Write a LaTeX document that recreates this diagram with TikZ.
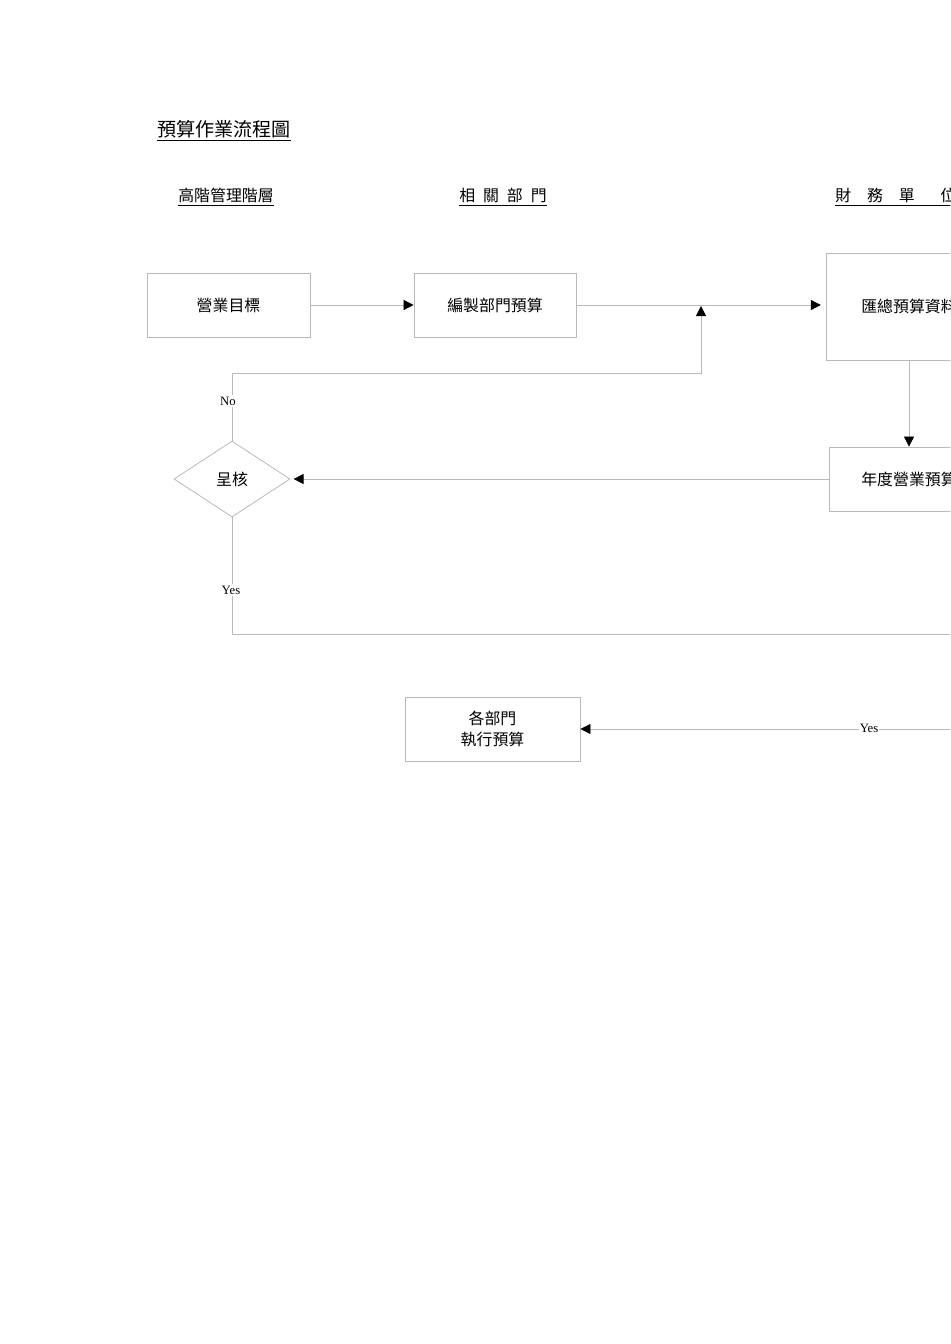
\documentclass[tikz,border=0pt]{standalone}
\usepackage{fontspec}
\setmainfont{Liberation Serif}
\newfontfamily\cjk{Noto Sans CJK TC}
\usetikzlibrary{arrows.meta,shapes.geometric}

\newcommand{\px}{0.0221cm}

\begin{document}
\begin{tikzpicture}[x=\px,y=-\px,
  box/.style={draw=gray!55, line width=0.5pt, inner sep=0pt, align=center, font=\cjk\fontsize{10}{13}\selectfont},
  chkbox/.style={diamond, draw=gray!55, line width=0.5pt, inner sep=0pt, minimum width=116*\px, minimum height=76*\px, font=\cjk\fontsize{10}{13}\selectfont},
  head/.style={font=\cjk\fontsize{10}{12}\selectfont, inner sep=0pt},
  line/.style={draw=gray!55, line width=0.5pt},
  arr/.style={line, -{Triangle[length=6.3pt,width=6.3pt,black]}},
  lbl/.style={fill=white, inner sep=1pt, font=\fontsize{8}{9}\selectfont}]
  \useasboundingbox (0,0) rectangle (950,1344);
  \clip (0,0) rectangle (950,1344);
  % titles
  \node[head, font=\cjk\fontsize{12}{14}\selectfont, anchor=west] (title) at (157,131) {\underline{預算作業流程圖}};
  \node[head] (colA) at (226,197) {\underline{高階管理階層}};
  \node[head] (colB) at (503,197) {\underline{相\hspace{5pt}關\hspace{5pt}部\hspace{5pt}門}};
  \node[head, anchor=west] (colC) at (835,197) {\underline{財\hspace{10pt}務\hspace{10pt}單\hspace{16pt}位\hspace{30pt}}};
  % boxes
  \node[box, minimum width=163*\px, minimum height=64*\px] (goal) at (228.5,305) {營業目標};
  \node[box, minimum width=162*\px, minimum height=64*\px] (dept) at (495,305) {編製部門預算};
  \node[box, minimum width=166*\px, minimum height=107*\px] (summ) at (909,306.5) {匯總預算資料};
  \node[box, minimum width=160*\px, minimum height=64*\px] (annual) at (909,479) {年度營業預算};
  \node[chkbox] (chk) at (232,479) {呈核};
  \node[box, minimum width=175*\px, minimum height=64*\px] (exec) at (492.5,729) {各部門\\執行預算};
  \coordinate (fb) at (701,306);
  \coordinate (yesA) at (232,634);
  \coordinate (yesR) at (960,634);
  \coordinate (inR) at (960,729);
  % connectors
  \draw[arr] (goal) -- (dept);
  \draw[arr, shorten >=3pt] (dept.east) -- (dept.east -| summ.west);
  \draw[arr] (summ) -- (annual);
  \draw[arr, shorten >=2pt] (annual) -- (chk);
  \draw[arr] (chk.north) -- (232,373) -| (fb);
  \node[lbl] (no) at (228,401) {No};
  \draw[line] (chk.south) -- (yesA) -- (yesR);
  \node[lbl] (yes1) at (231,590) {Yes};
  \draw[arr] (inR) -- (exec.east);
  \node[lbl, inner sep=0.5pt] (yes2) at (869,728) {Yes};
\end{tikzpicture}
\end{document}
